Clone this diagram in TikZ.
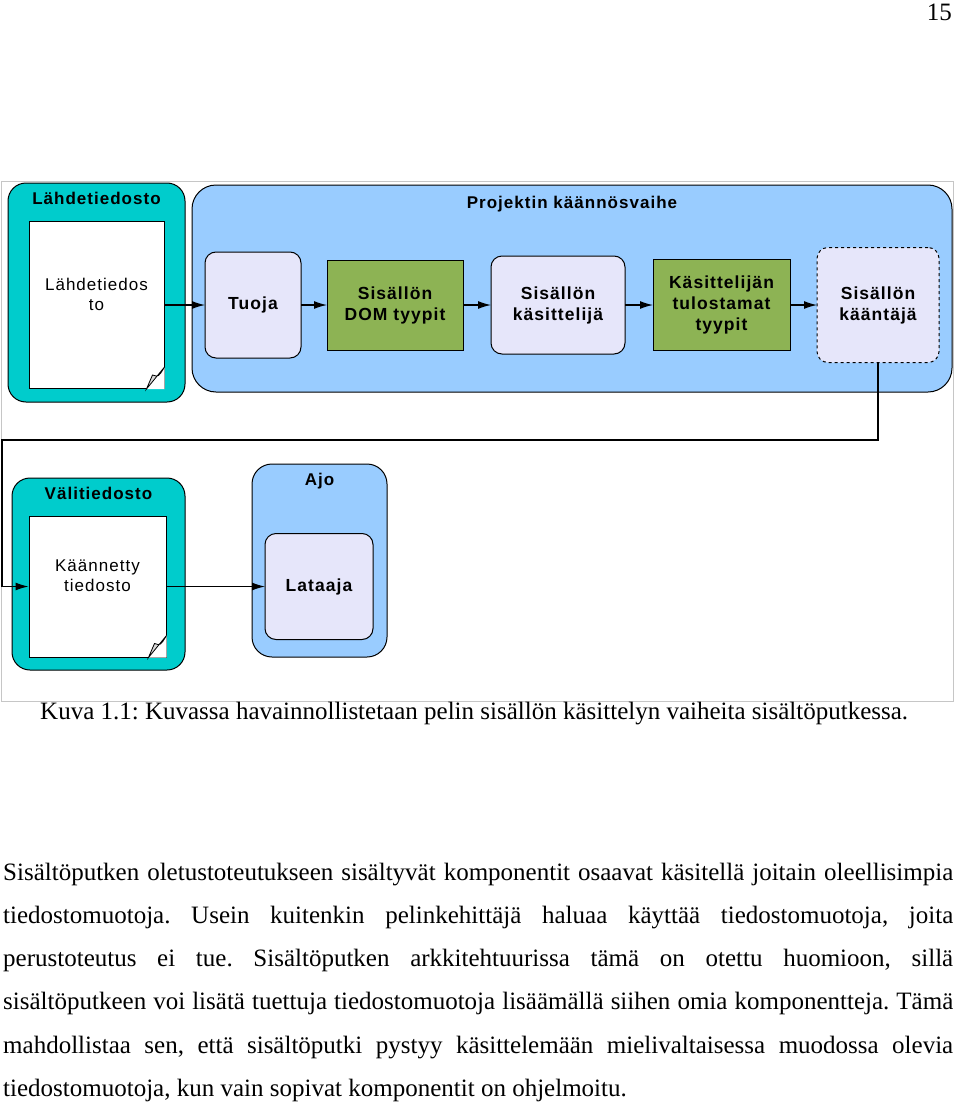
\documentclass[tikz,border=0pt]{standalone}
\usepackage{fontspec}
\setmainfont{Liberation Serif}
\newfontfamily\diagfont[LetterSpace=6]{Liberation Sans}
\usepackage{xcolor}
\usetikzlibrary{arrows.meta,positioning}

\definecolor{filecyan}{RGB}{0,204,204}
\definecolor{phaseblue}{RGB}{153,204,255}
\definecolor{steplilac}{RGB}{230,230,250}
\definecolor{typegreen}{RGB}{141,179,84}

% folded corner of a document page
\newcommand{\dogear}[1]{%
  \fill[white] ([yshift=22pt]#1.south east) -- (#1.south east) -- ([xshift=-18pt]#1.south east) -- cycle;
  \filldraw[fill=gray!30, line width=0.8pt] ([yshift=22pt]#1.south east) .. controls ([xshift=-6pt,yshift=12pt]#1.south east) .. ([xshift=-12pt,yshift=14pt]#1.south east)
    -- ([xshift=-18pt]#1.south east) -- cycle;
}

\begin{document}
\frenchspacing
\begin{tikzpicture}[
  x=1pt, y=-1pt,
  >=Latex,
  node distance=26pt,
  frame/.style={draw=gray!45, line width=0.8pt},
  filebox/.style={draw, line width=1pt, fill=filecyan, rounded corners=18pt},
  phasebox/.style={draw, line width=1pt, fill=phaseblue, rounded corners=24pt},
  boxtitle/.style={font=\diagfont\fontsize{17}{19}\selectfont\bfseries, inner sep=0pt},
  docpage/.style={draw, line width=1pt, fill=white, align=center,
    font=\diagfont\fontsize{17}{20}\selectfont},
  stepbox/.style={draw, line width=1pt, outer sep=0pt, fill=steplilac, rounded corners=11pt, align=center,
    font=\diagfont\fontsize{17.5}{21}\selectfont\bfseries},
  typebox/.style={draw, line width=1pt, outer sep=0pt, fill=typegreen, align=center,
    font=\diagfont\fontsize{17.5}{21}\selectfont\bfseries},
  flow/.style={-{Latex[length=13pt,width=8pt]}, line width=1.2pt},
  bodyline/.style={font=\fontsize{25}{43.3}\selectfont, inner sep=0pt}
]
\useasboundingbox (0,0) rectangle (960,1113);

\node[bodyline, anchor=base east] (pagenum) at (952,21) {15};

% picture frame
\draw[frame] (1,181) rectangle (953,701);

% source file
\node[filebox, minimum width=177pt, minimum height=219pt] (src) at (96.5,292.5) {};
\node[boxtitle, below=9pt of src.north] (srctitle) {Lähdetiedosto};
\node[docpage, minimum width=135pt, minimum height=167pt] (srcdoc) at (96.5,305) {Lähdetiedos\\to\\[2pt]~};
\dogear{srcdoc}

% build phase
\node[phasebox, minimum width=760pt, minimum height=207pt] (phase) at (572,288.5) {};
\node[boxtitle, below=11pt of phase.north] (phasetitle) {Projektin käännösvaihe};
\node[stepbox, minimum width=96pt, minimum height=106pt] (tuoja) at (253,305) {Tuoja};
\node[typebox, right=of tuoja, minimum width=136pt, minimum height=90pt] (domtypes) {Sisällön\\DOM tyypit};
\node[stepbox, right=28pt of domtypes, minimum width=134pt, minimum height=98pt] (processor) {Sisällön\\käsittelijä};
\node[typebox, right=28pt of processor, minimum width=137pt, minimum height=91pt] (outtypes) {Käsittelijän\\tulostamat\\tyypit};
\node[stepbox, dashed, right=27pt of outtypes, minimum width=122pt, minimum height=115pt] (compiler) {Sisällön\\kääntäjä};

% intermediate file
\node[filebox, minimum width=173pt, minimum height=192pt] (mid) at (98.5,574) {};
\node[boxtitle, below=9pt of mid.north] (midtitle) {Välitiedosto};
\node[docpage, minimum width=137pt, minimum height=141pt] (middoc) at (97.5,586.5) {Käännetty\\tiedosto\\[2pt]~};
\dogear{middoc}

% run time
\node[phasebox, rounded corners=20pt, minimum width=135pt, minimum height=193pt] (run) at (319.5,560.5) {};
\node[boxtitle, below=9pt of run.north] (runtitle) {Ajo};
\node[stepbox, minimum width=108pt, minimum height=106pt] (loader) at (319,586.5) {Lataaja};

\coordinate (turn) at (2,440);

\draw[flow] (srcdoc) -- (tuoja);
\draw[flow] (tuoja) -- (domtypes);
\draw[flow] (domtypes) -- (processor);
\draw[flow] (processor) -- (outtypes);
\draw[flow] (outtypes) -- (compiler);
\draw[flow] (compiler.south) |- (turn) |- (middoc.west);
\draw[flow] (middoc) -- (loader);

% caption and body text
\node[bodyline, anchor=base west] (caption) at (40,719)
  {Kuva 1.1: Kuvassa havainnollistetaan pelin sisällön käsittelyn vaiheita sisältöputkessa.};
\foreach \txt [count=\i] in {
  {Sisältöputken oletustoteutukseen sisältyvät komponentit osaavat käsitellä joitain oleellisimpia},
  {tiedostomuotoja. Usein kuitenkin pelinkehittäjä haluaa käyttää tiedostomuotoja, joita},
  {perustoteutus ei tue. Sisältöputken arkkitehtuurissa tämä on otettu huomioon, sillä},
  {sisältöputkeen voi lisätä tuettuja tiedostomuotoja lisäämällä siihen omia komponentteja. Tämä},
  {mahdollistaa sen, että sisältöputki pystyy käsittelemään mielivaltaisessa muodossa olevia}}
  \node[bodyline, anchor=base west] (line\i) at (3,{880+43.3*(\i-1)}) {\hbox to 950pt{\txt}};
\node[bodyline, anchor=base west] (line6) at (3,1096.5)
  {tiedostomuotoja, kun vain sopivat komponentit on ohjelmoitu.};
\end{tikzpicture}
\end{document}
